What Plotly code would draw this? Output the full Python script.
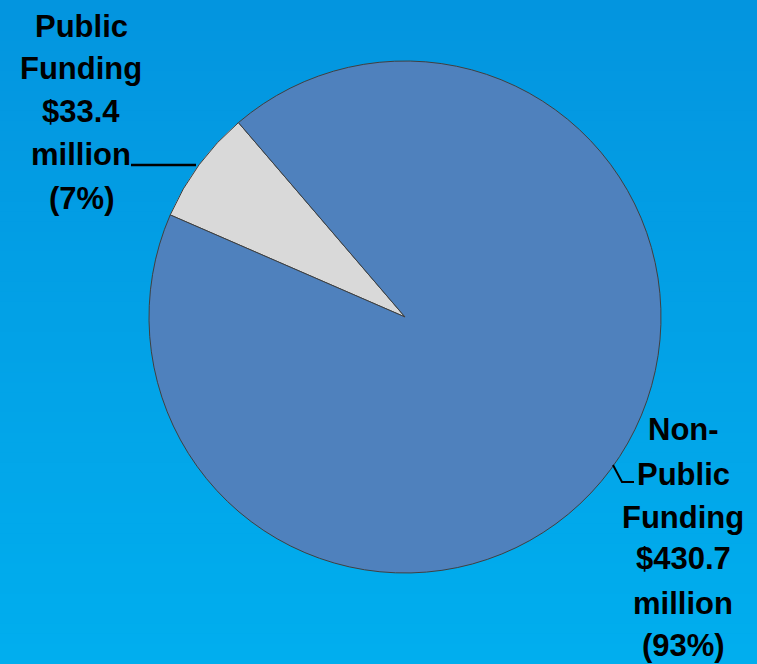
import plotly.graph_objects as go

labels = ["Public Funding", "Non-Public Funding"]
values = [33.4, 430.7]
public_lines = ["Public", "Funding", "$33.4", "million", "(7%)"]
nonpublic_lines = ["Non-", "Public", "Funding", "$430.7", "million", "(93%)"]
colors = ["#d9d9d9", "#4f81bd"]

W, H = 757, 664

fig = go.Figure()
fig.add_trace(go.Pie(
    labels=labels, values=values, sort=False, direction="clockwise",
    rotation=-66.5, textinfo="none", hoverinfo="label+value+percent",
    marker=dict(colors=colors, line=dict(color="#404040", width=1)),
    domain=dict(x=[149 / W, 661 / W], y=[(347 - 256) / H, (347 + 256) / H]),
    showlegend=False,
))

# vertical gradient background
shapes = []
n = 66
c0 = (3, 149, 223)
c1 = (1, 174, 238)
for i in range(n):
    t = i / (n - 1)
    c = tuple(round(c0[k] + (c1[k] - c0[k]) * t) for k in range(3))
    shapes.append(dict(type="rect", xref="paper", yref="paper",
                       x0=0, x1=1, y0=1 - (i + 1) / n - 0.002, y1=1 - i / n,
                       fillcolor="rgb(%d,%d,%d)" % c, line=dict(width=0), layer="below"))

# leader lines
shapes.append(dict(type="path", xref="paper", yref="paper",
                   path="M %f %f L %f %f" % (131 / W, 1 - 165 / H, 196 / W, 1 - 165 / H),
                   line=dict(color="black", width=2.5)))
shapes.append(dict(type="path", xref="paper", yref="paper",
                   path="M %f %f L %f %f L %f %f" % (613 / W, 1 - 465 / H, 622 / W, 1 - 482 / H,
                                                    634 / W, 1 - 482 / H),
                   line=dict(color="black", width=2)))

font = dict(family="Liberation Sans, Arial", size=31, color="black")
annotations = []
for txt, yc in zip(public_lines, [25, 67, 110, 152, 197]):
    annotations.append(dict(text="<b>%s</b>" % txt, x=81 / W, y=1 - (yc + 2) / H,
                            xref="paper", yref="paper", showarrow=False, font=font,
                            xanchor="center", yanchor="middle"))
for txt, yc in zip(nonpublic_lines, [427, 472, 515, 556, 601, 643]):
    annotations.append(dict(text="<b>%s</b>" % txt, x=683 / W, y=1 - (yc + 2) / H,
                            xref="paper", yref="paper", showarrow=False, font=font,
                            xanchor="center", yanchor="middle"))

fig.update_layout(width=W, height=H, margin=dict(l=0, r=0, t=0, b=0),
                  paper_bgcolor="rgb(2,162,230)", shapes=shapes, annotations=annotations)
fig.write_html("out.html")
